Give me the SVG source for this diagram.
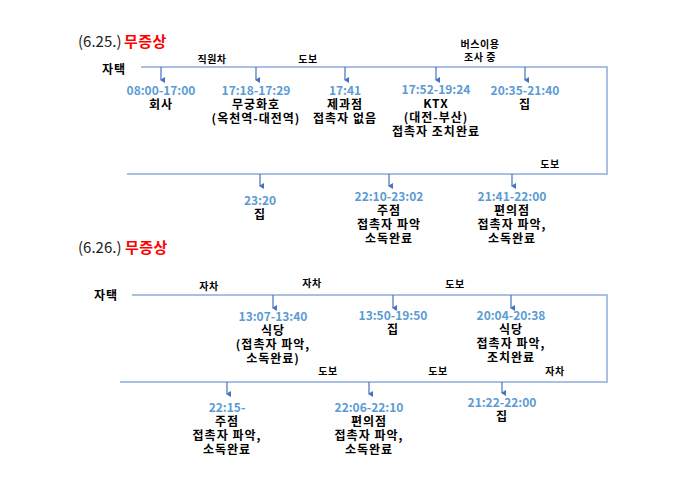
<svg xmlns="http://www.w3.org/2000/svg" width="700" height="495" viewBox="0 0 700 495">
<defs>
<marker id="ah" markerWidth="6" markerHeight="6" refX="3" refY="5" orient="auto" markerUnits="userSpaceOnUse" viewBox="0 0 6 6">
<path d="M0,1 L3,6 L6,1 Z" fill="#4472C4"/>
</marker>
<style>
text{font-family:"Noto Sans CJK KR","Noto Sans",sans-serif;font-weight:bold;font-size:12px;fill:#000;text-anchor:middle;letter-spacing:1px}
.t{fill:#5B9BD5;letter-spacing:0}
.h{font-size:15px;font-weight:normal;text-anchor:start;fill:#222;letter-spacing:0}
.r{font-size:15px;fill:#FF0000;text-anchor:start;letter-spacing:0.5px}
.line{stroke:#8FAADC;stroke-width:1.5;fill:none}
.arr{stroke:#4472C4;stroke-width:1.2;marker-end:url(#ah)}
.s{font-size:10px;letter-spacing:0.5px}
</style>
</defs>
<rect width="700" height="495" fill="#fff"/>
<g id="titles">
<text class="h" x="78" y="47">(6.25.)</text>
<text class="r" x="124" y="47">무증상</text>
<text class="h" x="78" y="253">(6.26.)</text>
<text class="r" x="125" y="253">무증상</text>
</g>
<g id="connectors">
<path class="line" d="M141,67 H607 V174 H127"/>
<path class="line" d="M132,295 H607 V382 H120"/>
<line class="arr" x1="161" y1="67" x2="161" y2="80"/>
<line class="arr" x1="256" y1="67" x2="256" y2="80"/>
<line class="arr" x1="345" y1="67" x2="345" y2="80"/>
<line class="arr" x1="436" y1="67" x2="436" y2="80"/>
<line class="arr" x1="525" y1="67" x2="525" y2="80"/>
<line class="arr" x1="260" y1="174" x2="260" y2="186"/>
<line class="arr" x1="389" y1="174" x2="389" y2="186"/>
<line class="arr" x1="512" y1="174" x2="512" y2="186"/>
<line class="arr" x1="273" y1="295" x2="273" y2="308"/>
<line class="arr" x1="393" y1="295" x2="393" y2="308"/>
<line class="arr" x1="511" y1="295" x2="511" y2="308"/>
<line class="arr" x1="227" y1="382" x2="227" y2="394"/>
<line class="arr" x1="369" y1="382" x2="369" y2="394"/>
<line class="arr" x1="502" y1="382" x2="502" y2="393"/>
</g>
<g id="edge-labels">
<text class="s" x="212" y="63">직원차</text>
<text class="s" x="308" y="63">도보</text>
<text class="s" x="480" y="48">버스이용</text>
<text class="s" x="480" y="61">조사 중</text>
<text class="s" x="550" y="168">도보</text>
<text class="s" x="209" y="290">자차</text>
<text class="s" x="312" y="287">자차</text>
<text class="s" x="455" y="288">도보</text>
<text class="s" x="328" y="375">도보</text>
<text class="s" x="438" y="375">도보</text>
<text class="s" x="555" y="375">자차</text>
</g>
<g id="home1"><text x="114" y="74">자택</text></g>
<g id="home2"><text x="106" y="300">자택</text></g>
<g id="n1"><text class="t" x="161" y="95">08:00-17:00</text><text x="161" y="109">회사</text></g>
<g id="n2"><text class="t" x="256" y="95">17:18-17:29</text><text x="256" y="109">무궁화호</text><text x="256" y="123">(옥천역-대전역)</text></g>
<g id="n3"><text class="t" x="345" y="95">17:41</text><text x="345" y="109">제과점</text><text x="345" y="123">접촉자 없음</text></g>
<g id="n4"><text class="t" x="436" y="94">17:52-19:24</text><text x="436" y="108">KTX</text><text x="436" y="122">(대전-부산)</text><text x="436" y="136">접촉자 조치완료</text></g>
<g id="n5"><text class="t" x="525" y="95">20:35-21:40</text><text x="525" y="109">집</text></g>
<g id="n6"><text class="t" x="260" y="205">23:20</text><text x="260" y="219">집</text></g>
<g id="n7"><text class="t" x="389" y="201">22:10-23:02</text><text x="389" y="215">주점</text><text x="389" y="229">접촉자 파악</text><text x="389" y="243">소독완료</text></g>
<g id="n8"><text class="t" x="512" y="201">21:41-22:00</text><text x="512" y="215">편의점</text><text x="512" y="229">접촉자 파악,</text><text x="512" y="243">소독완료</text></g>
<g id="m1"><text class="t" x="273" y="321">13:07-13:40</text><text x="273" y="335">식당</text><text x="273" y="349">(접촉자 파악,</text><text x="273" y="363">소독완료)</text></g>
<g id="m2"><text class="t" x="393" y="320">13:50-19:50</text><text x="393" y="334">집</text></g>
<g id="m3"><text class="t" x="511" y="320">20:04-20:38</text><text x="511" y="334">식당</text><text x="511" y="348">접촉자 파악,</text><text x="511" y="362">조치완료</text></g>
<g id="m4"><text class="t" x="227" y="412">22:15-</text><text x="227" y="426">주점</text><text x="227" y="440">접촉자 파악,</text><text x="227" y="454">소독완료</text></g>
<g id="m5"><text class="t" x="369" y="412">22:06-22:10</text><text x="369" y="426">편의점</text><text x="369" y="440">접촉자 파악,</text><text x="369" y="454">소독완료</text></g>
<g id="m6"><text class="t" x="502" y="407">21:22-22:00</text><text x="502" y="421">집</text></g>
</svg>
